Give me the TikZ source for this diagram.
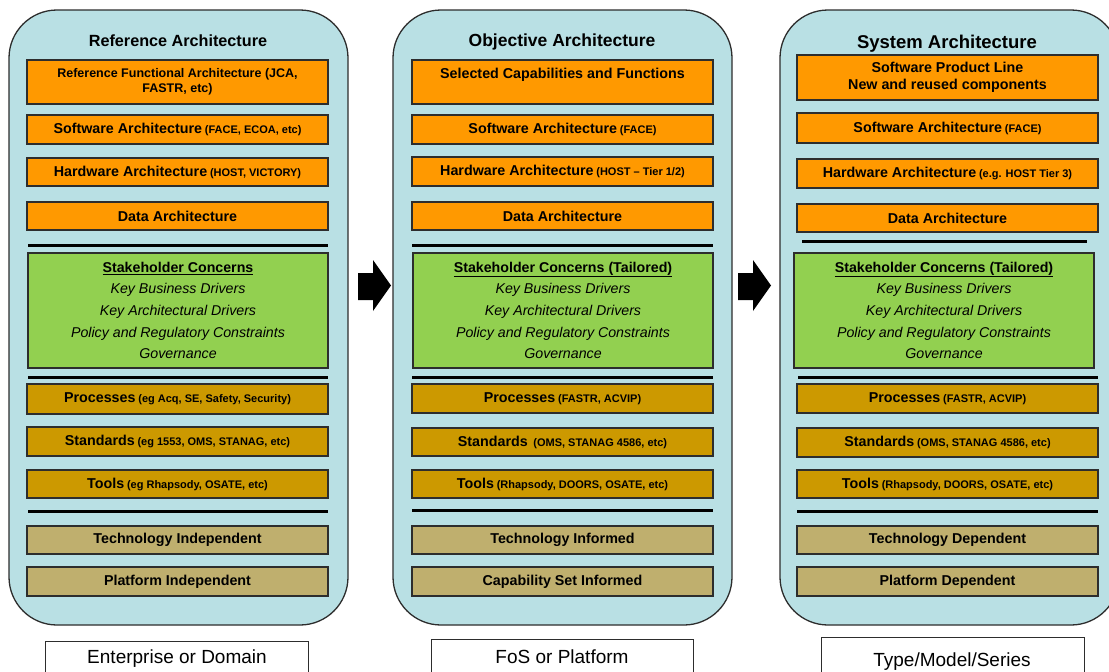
\documentclass[tikz,border=0pt]{standalone}
\usepackage{fontspec}
\setmainfont{Liberation Sans}
\definecolor{panelblue}{RGB}{185,224,228}
\definecolor{orangebox}{RGB}{255,153,0}
\definecolor{greenbox}{RGB}{146,208,80}
\definecolor{goldbox}{RGB}{204,153,0}
\definecolor{tanbox}{RGB}{191,175,110}
\definecolor{edgegray}{RGB}{45,45,45}
\newcommand{\mtx}[1]{{\bfseries\fontsize{14.3}{16}\selectfont #1}}
\newcommand{\ptx}[1]{{\bfseries\fontsize{11}{12}\selectfont #1}}
\tikzset{
  panel/.style={draw=edgegray, line width=1.3pt, fill=panelblue, rounded corners=48pt},
  boxbase/.style={draw=edgegray, line width=1.2pt, inner sep=0pt, align=center, minimum width=301pt, text=black},
  obox/.style={boxbase, fill=orangebox},
  gbox/.style={boxbase, fill=greenbox, minimum width=300pt, minimum height=115pt,
    font=\itshape\fontsize{14.2}{21.7}\selectfont},
  dbox/.style={boxbase, fill=goldbox},
  tbox/.style={boxbase, fill=tanbox, font=\bfseries\fontsize{14.3}{16}\selectfont},
  sepline/.style={line width=3pt, black},
  lblbox/.style={draw=edgegray, line width=0.9pt, fill=white},
  lbltext/.style={font=\fontsize{19}{22}\selectfont, inner sep=0pt},
  ttl/.style={font=\bfseries, inner sep=0pt},
  blockarrow/.style={fill=black}
}
\begin{document}
\begin{tikzpicture}[x=1pt, y=-1pt]
\useasboundingbox (0,0) rectangle (1109,672);
\clip (0,0) rectangle (1109,672);
\fill[white] (0,0) rectangle (1109,672);

% panels
\draw[panel] (9,10) rectangle (348,625);
\draw[panel] (393,10) rectangle (732,625);
\draw[panel] (780,10) rectangle (1119,625);

% bottom labels
\draw[lblbox] (45,641) rectangle (308,700);
\draw[lblbox] (431,639) rectangle (693,700);
\draw[lblbox] (821,637) rectangle (1084,700);
\node[lbltext] (l1) at (177,658.5) {Enterprise or Domain};
\node[lbltext] (l2) at (562,656.5) {FoS or Platform};
\node[lbltext] (l3) at (952,662) {Type/Model/Series};

% arrows
\fill[blockarrow] (358,273) -- (373,273) -- (373,260) -- (391,285.5) -- (373,311) -- (373,300) -- (358,300) -- cycle;
\fill[blockarrow] (738,273) -- (753,273) -- (753,260) -- (771,285.5) -- (753,311) -- (753,300) -- (738,300) -- cycle;

% ---------- column 1 ----------
\node[ttl, font=\bfseries\fontsize{16.2}{19}\selectfont] (t1) at (178,41) {Reference Architecture};
\node[obox, minimum height=44pt, font=\bfseries\fontsize{12.5}{15}\selectfont] (r1) at (177.5,82) {Reference Functional Architecture (JCA,\\FASTR, etc)};
\node[obox, minimum height=29pt] (r2) at (177.5,129.5) {\mtx{Software Architecture} \ptx{(FACE, ECOA, etc)}};
\node[obox, minimum height=28pt] (r3) at (177.5,172) {\mtx{Hardware Architecture} \ptx{(HOST, VICTORY)}};
\node[obox, minimum height=28pt] (r4) at (177.5,216) {\mtx{Data Architecture}};
\draw[sepline] (28,245) -- (328,245);
\node[gbox] (rg) at (178,310.5) {{\upshape\bfseries\underline{Stakeholder Concerns}}\\Key Business Drivers\\Key Architectural Drivers\\Policy and Regulatory Constraints\\Governance};
\draw[sepline] (28,377) -- (328,377);
\node[dbox, minimum height=30pt] (r5) at (177.5,399) {\mtx{Processes} \ptx{(eg Acq, SE, Safety, Security)}};
\node[dbox, minimum height=29pt] (r6) at (177.5,441.5) {\mtx{Standards} \ptx{(eg 1553, OMS, STANAG, etc)}};
\node[dbox, minimum height=28pt] (r7) at (177.5,484) {\mtx{Tools} \ptx{(eg Rhapsody, OSATE, etc)}};
\draw[sepline] (28,511) -- (328,511);
\node[tbox, minimum height=28pt] (r8) at (177.5,540) {Technology Independent};
\node[tbox, minimum height=29pt] (r9) at (177.5,581.5) {Platform Independent};

% ---------- column 2 ----------
\node[ttl, font=\bfseries\fontsize{17.5}{20}\selectfont] (t2) at (562,42) {Objective Architecture};
\node[obox, minimum height=44pt, font=\bfseries\fontsize{14.3}{17}\selectfont] (o1) at (562.5,82) {Selected Capabilities and Functions\\\phantom{X}};
\node[obox, minimum height=29pt] (o2) at (562.5,129.5) {\mtx{Software Architecture} \ptx{(FACE)}};
\node[obox, minimum height=29pt] (o3) at (562.5,171.5) {\mtx{Hardware Architecture} \ptx{(HOST -- Tier 1/2)}};
\node[obox, minimum height=28pt] (o4) at (562.5,216) {\mtx{Data Architecture}};
\draw[sepline] (412,245) -- (713,245);
\node[gbox] (og) at (563,310.5) {{\upshape\bfseries\underline{Stakeholder Concerns (Tailored)}}\\Key Business Drivers\\Key Architectural Drivers\\Policy and Regulatory Constraints\\Governance};
\draw[sepline] (412,377) -- (713,377);
\node[dbox, minimum height=29pt] (o5) at (562.5,398.5) {\mtx{Processes} \ptx{(FASTR, ACVIP)}};
\node[dbox, minimum height=28pt] (o6) at (562.5,442) {\mtx{Standards}\ \ \ptx{(OMS, STANAG 4586, etc)}};
\node[dbox, minimum height=28pt] (o7) at (562.5,484) {\mtx{Tools} \ptx{(Rhapsody, DOORS, OSATE, etc)}};
\draw[sepline] (412,510) -- (713,510);
\node[tbox, minimum height=28pt] (o8) at (562.5,540) {Technology Informed};
\node[tbox, minimum height=29pt] (o9) at (562.5,581.5) {Capability Set Informed};

% ---------- column 3 ----------
\node[ttl, font=\bfseries\fontsize{18.5}{21}\selectfont] (t3) at (947,44) {System Architecture};
\node[obox, minimum height=45pt, font=\bfseries\fontsize{14.3}{17}\selectfont] (s1) at (947.5,77.5) {Software Product Line\\New and reused components};
\node[obox, minimum height=30pt] (s2) at (947.5,128) {\mtx{Software Architecture} \ptx{(FACE)}};
\node[obox, minimum height=29pt] (s3) at (947.5,173.5) {\mtx{Hardware Architecture} \ptx{(e.g. HOST Tier 3)}};
\node[obox, minimum height=28pt] (s4) at (947.5,218) {\mtx{Data Architecture}};
\draw[sepline] (802,241) -- (1087,241);
\node[gbox] (sg) at (944,310.5) {{\upshape\bfseries\underline{Stakeholder Concerns (Tailored)}}\\Key Business Drivers\\Key Architectural Drivers\\Policy and Regulatory Constraints\\Governance};
\draw[sepline] (798,377) -- (1098,377);
\node[dbox, minimum height=29pt] (s5) at (947.5,398.5) {\mtx{Processes} \ptx{(FASTR, ACVIP)}};
\node[dbox, minimum height=29pt] (s6) at (947.5,442.5) {\mtx{Standards} \ptx{(OMS, STANAG 4586, etc)}};
\node[dbox, minimum height=28pt] (s7) at (947.5,484) {\mtx{Tools} \ptx{(Rhapsody, DOORS, OSATE, etc)}};
\draw[sepline] (797,511) -- (1098,511);
\node[tbox, minimum height=28pt] (s8) at (947.5,540) {Technology Dependent};
\node[tbox, minimum height=29pt] (s9) at (947.5,581.5) {Platform Dependent};
\end{tikzpicture}
\end{document}
